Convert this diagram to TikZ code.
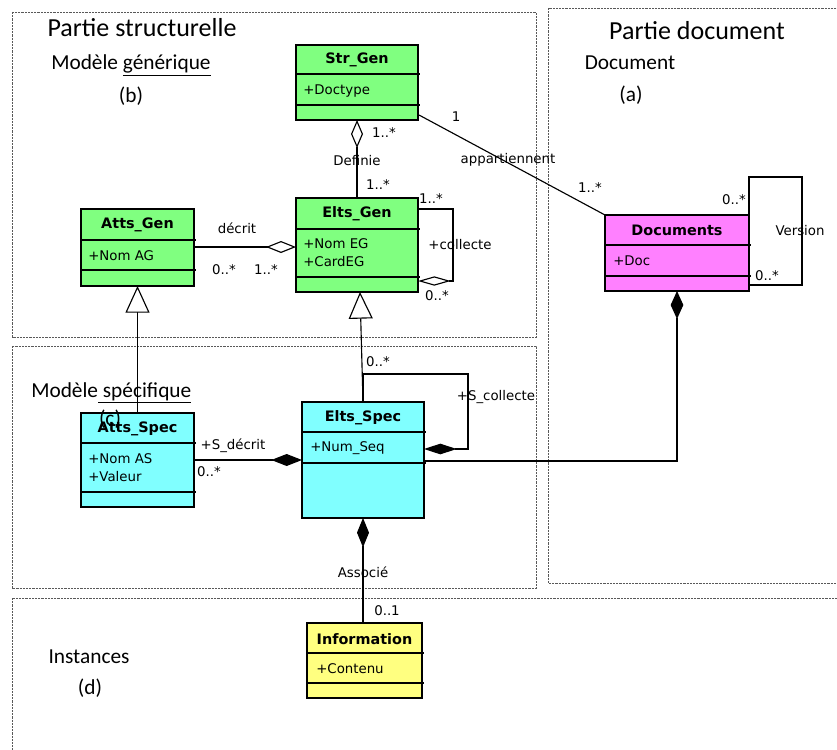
\documentclass[tikz,border=0pt]{standalone}
\usepackage{fontspec}
\usetikzlibrary{arrows.meta,calc}
\newfontfamily\umlf{DejaVu Sans}
\newfontfamily\calf{Carlito}
\definecolor{cgreen}{RGB}{128,255,128}
\definecolor{ccyan}{RGB}{128,255,255}
\definecolor{cpink}{RGB}{255,128,255}
\definecolor{cyell}{RGB}{255,255,128}
\tikzset{
  cls/.style={draw, line width=0.9pt, anchor=north west, inner sep=0pt, outer sep=0pt},
  ttl/.style={font=\umlf\bfseries\fontsize{10.8}{13}\selectfont, inner sep=0pt},
  attr/.style={font=\umlf\fontsize{10}{12}\selectfont, anchor=west, inner sep=0pt},
  lbl/.style={font=\umlf\fontsize{10}{12}\selectfont, inner sep=0pt},
  part/.style={font=\calf\fontsize{19.5}{23}\selectfont, inner sep=0pt},
  sub/.style={font=\calf\fontsize{16}{19}\selectfont, inner sep=0pt},
  zone/.style={draw=black!65, line width=0.7pt, dash pattern=on 1.6pt off 0.8pt},
  sep/.style={line width=0.8pt},
  conn/.style={line width=0.85pt},
  odiam/.style={{Diamond[fill=white,length=#1,width=9pt]}-},
  fdiam/.style={{Diamond[length=#1,width=9pt]}-},
  gen/.style={-{Triangle[fill=white,length=20pt,width=18pt]}},
}
\begin{document}
\begin{tikzpicture}[x=0.75pt,y=-0.75pt]
\useasboundingbox (0,0) rectangle (837,749);

% zones
\draw[zone] (12,12) rectangle (536,337);
\draw[zone] (12,346) rectangle (536,588);
\draw[zone] (548,8) rectangle (842,583);
\draw[zone] (12,598) rectangle (845,760);

% zone titles
\node[part] (pstruct) at (142,28) {Partie structurelle};
\node[sub, anchor=west] (mgen) at (51,65) {Modèle \underline{générique}};
\node[sub] (lb) at (131,96) {(b)};
\node[part] (pdoc) at (697,31) {Partie document};
\node[sub] (mdoc) at (630,63) {Document};
\node[sub] (la) at (631,95) {(a)};
\node[sub, anchor=west] (mspec) at (31,393) {Modèle\underline{ spécifique}};
\node[sub] (minst) at (89,657) {Instances};
\node[sub] (ld) at (90,688) {(d)};

% Str_Gen
\node[cls, fill=cgreen, minimum width=91.5pt, minimum height=56.25pt] (strgen) at (296,45) {};
\draw[sep] ($(strgen.north west)+(0,29)$) -- ++(124,0);
\draw[sep] ($(strgen.north west)+(0,60)$) -- ++(124,0);
\node[ttl] (strgen-t) at ($(strgen.north)+(0,15)$) {Str\_Gen};
\node[attr] (strgen-a) at ($(strgen.north west)+(7,46)$) {+Doctype};

% Elts_Gen
\node[cls, fill=cgreen, minimum width=91.5pt, minimum height=70.5pt] (eltsgen) at (296,198) {};
\draw[sep] ($(eltsgen.north west)+(0,31)$) -- ++(124,0);
\draw[sep] ($(eltsgen.north west)+(0,79)$) -- ++(124,0);
\node[ttl] (eltsgen-t) at ($(eltsgen.north)+(0,16)$) {Elts\_Gen};
\node[attr] (eltsgen-a) at ($(eltsgen.north west)+(7,46)$) {+Nom EG};
\node[attr] (eltsgen-b) at ($(eltsgen.north west)+(7,64)$) {+CardEG};

% Atts_Gen
\node[cls, fill=cgreen, minimum width=84.75pt, minimum height=57.75pt] (attsgen) at (81,209) {};
\draw[sep] ($(attsgen.north west)+(0,31)$) -- ++(115,0);
\draw[sep] ($(attsgen.north west)+(0,61)$) -- ++(115,0);
\node[ttl] (attsgen-t) at ($(attsgen.north)+(0,16)$) {Atts\_Gen};
\node[attr] (attsgen-a) at ($(attsgen.north west)+(7,47)$) {+Nom AG};

% Documents
\node[cls, fill=cpink, minimum width=108pt, minimum height=57pt] (docs) at (605,215) {};
\draw[sep] ($(docs.north west)+(0,30)$) -- ++(146,0);
\draw[sep] ($(docs.north west)+(0,61)$) -- ++(146,0);
\node[ttl] (docs-t) at ($(docs.north)+(0,15)$) {Documents};
\node[attr] (docs-a) at ($(docs.north west)+(8,46)$) {+Doc};

% Atts_Spec
\node[cls, fill=ccyan, minimum width=84.75pt, minimum height=70.5pt] (attsspec) at (81,413) {};
\draw[sep] ($(attsspec.north west)+(0,30)$) -- ++(115,0);
\draw[sep] ($(attsspec.north west)+(0,79)$) -- ++(115,0);
\node[ttl] (attsspec-t) at ($(attsspec.north)+(0,16)$) {Atts\_Spec};
\node[attr] (attsspec-a) at ($(attsspec.north west)+(7,46)$) {+Nom AS};
\node[attr] (attsspec-b) at ($(attsspec.north west)+(7,64)$) {+Valeur};
\node[sub] (lc) at (110,419) {(c)};

% Elts_Spec
\node[cls, fill=ccyan, minimum width=91.5pt, minimum height=87pt] (eltsspec) at (302,402) {};
\draw[sep] ($(eltsspec.north west)+(0,30)$) -- ++(124,0);
\draw[sep] ($(eltsspec.north west)+(0,61)$) -- ++(124,0);
\node[ttl] (eltsspec-t) at ($(eltsspec.north)+(0,16)$) {Elts\_Spec};
\node[attr] (eltsspec-a) at ($(eltsspec.north west)+(8,46)$) {+Num\_Seq};

% Information
\node[cls, fill=cyell, minimum width=86.25pt, minimum height=56.25pt] (info) at (307,623) {};
\draw[sep] ($(info.north west)+(0,30)$) -- ++(117,0);
\draw[sep] ($(info.north west)+(0,60)$) -- ++(117,0);
\node[ttl] (info-t) at ($(info.north)+(0,16)$) {Information};
\node[attr] (info-a) at ($(info.north west)+(9,46)$) {+Contenu};

% Definie
\draw[conn, odiam=21pt] (strgen.south) -- (eltsgen.north);
\node[lbl] (m1) at (384,133) {1..*};
\node[lbl] (def) at (357,161) {Definie};
\node[lbl] (m2) at (378,185) {1..*};

% appartiennent
\draw[conn] ($(strgen.south east)+(1,-5)$) -- (docs.north west);
\node[lbl] (m3) at (456,117) {1};
\node[lbl] (app) at (508,160) {appartiennent};
\node[lbl] (m4) at (590,188) {1..*};

% décrit
\draw[conn, odiam=22.5pt] ($(eltsgen.north west)+(0,49)$) -- ($(attsgen.north east)+(0,38)$);
\node[lbl] (dec) at (237,228) {décrit};
\node[lbl] (m5) at (224,270) {0..*};
\node[lbl] (m6) at (266,270) {1..*};

% collecte
\draw[conn, -{Diamond[fill=white,length=24.5pt,width=7pt]}] ($(eltsgen.north east)+(0,11)$) -- ++(35,0) -- ++(0,72) -- ($(eltsgen.north east)+(0,83)$);
\node[lbl] (m7) at (431,199) {1..*};
\node[lbl] (col) at (460,245) {+collecte};
\node[lbl] (m8) at (437,296) {0..*};

% Version
\draw[conn] (docs.north east) -- ++(0,-38) -- ++(53,0) |- ($(docs.north east)+(0,70)$);
\node[lbl] (m9) at (734,200) {0..*};
\node[lbl] (ver) at (800,231) {Version};
\node[lbl] (m10) at (767,276) {0..*};

% generalisations
\draw[conn, gen] (attsspec.north) -- (attsgen.south);
\draw[conn, gen] (eltsspec.north) -- ($(eltsgen.south)+(3,0)$);

% S_collecte
\draw[conn, -{Diamond[length=24.5pt,width=8pt]}] (eltsspec.north) -- ++(0,-28) -| ++(105,75) -- ($(eltsspec.north east)+(0,47)$);
\node[lbl] (m11) at (378,362) {0..*};
\node[lbl] (scol) at (496,397) {+S\_collecte};

% S_décrit
\draw[conn, fdiam=23pt] ($(eltsspec.north west)+(0,58)$) -- ($(attsspec.north east)+(0,47)$);
\node[lbl] (sdec) at (233,446) {+S\_décrit};
\node[lbl] (m12) at (209,472) {0..*};

% Documents composition
\draw[conn, {Diamond[length=21pt,width=9.5pt]}-] (docs.south) |- ($(eltsspec.north east)+(0,59)$);

% Associé
\draw[conn, fdiam=22pt] (eltsspec.south) -- (eltsspec.south |- info.north);
\node[lbl] (ass) at (363,572) {Associé};
\node[lbl] (m13) at (387,611) {0..1};

\end{tikzpicture}
\end{document}
